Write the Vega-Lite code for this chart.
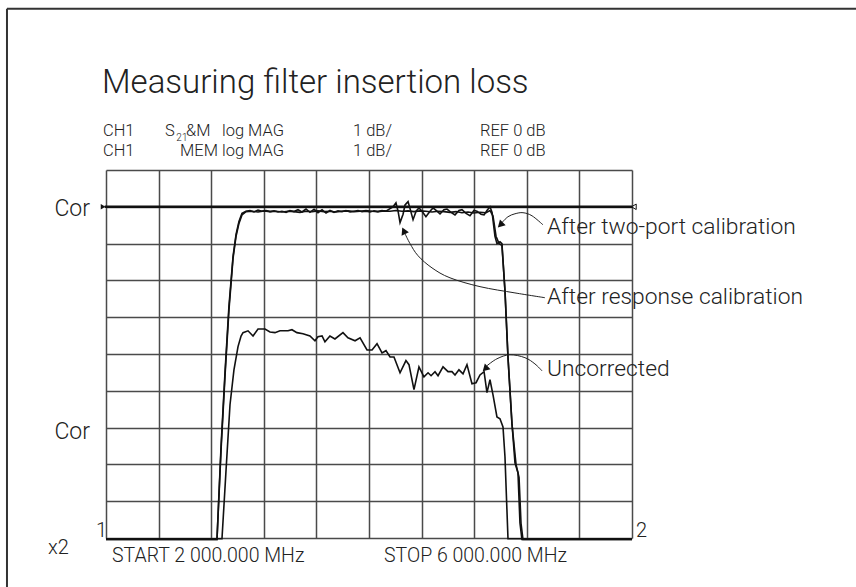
{
  "$schema": "https://vega.github.io/schema/vega-lite/v6.json",
  "autosize": "none",
  "width": 526,
  "height": 368,
  "padding": {"left": 106, "top": 170, "right": 224, "bottom": 49},
  "background": "white",
  "config": {
    "view": {"stroke": null},
    "font": "Roboto",
    "axis": {"grid": true, "gridColor": "#4a4a4a", "gridWidth": 1.5, "gridOpacity": 1, "labels": false, "ticks": false, "domain": false, "title": null}
  },
  "datasets": {
    "traces": [
      {"s": "two-port", "f": 2000, "db": -9.04}, {"s": "two-port", "f": 2844, "db": -9.04}, {"s": "two-port", "f": 2875, "db": -6.6}, {"s": "two-port", "f": 2905, "db": -4.6}, {"s": "two-port", "f": 2935, "db": -2.8}, {"s": "two-port", "f": 2966, "db": -1.4}, {"s": "two-port", "f": 2989, "db": -0.8}, {"s": "two-port", "f": 3011, "db": -0.45}, {"s": "two-port", "f": 3034, "db": -0.22}, {"s": "two-port", "f": 3065, "db": -0.13}, {"s": "two-port", "f": 3110, "db": -0.12}, {"s": "two-port", "f": 3156, "db": -0.14}, {"s": "two-port", "f": 3202, "db": -0.11}, {"s": "two-port", "f": 3247, "db": -0.13}, {"s": "two-port", "f": 3293, "db": -0.12}, {"s": "two-port", "f": 3338, "db": -0.14}, {"s": "two-port", "f": 3384, "db": -0.12}, {"s": "two-port", "f": 3430, "db": -0.13}, {"s": "two-port", "f": 3475, "db": -0.15}, {"s": "two-port", "f": 3521, "db": -0.12}, {"s": "two-port", "f": 3567, "db": -0.13}, {"s": "two-port", "f": 3612, "db": -0.11}, {"s": "two-port", "f": 3658, "db": -0.13}, {"s": "two-port", "f": 3703, "db": -0.12}, {"s": "two-port", "f": 3749, "db": -0.14}, {"s": "two-port", "f": 3795, "db": -0.12}, {"s": "two-port", "f": 3840, "db": -0.11}, {"s": "two-port", "f": 3886, "db": -0.13}, {"s": "two-port", "f": 3932, "db": -0.12}, {"s": "two-port", "f": 3977, "db": -0.1}, {"s": "two-port", "f": 4023, "db": -0.12}, {"s": "two-port", "f": 4068, "db": -0.13}, {"s": "two-port", "f": 4114, "db": -0.11}, {"s": "two-port", "f": 4160, "db": -0.12}, {"s": "two-port", "f": 4205, "db": -0.1}, {"s": "two-port", "f": 4251, "db": -0.12}, {"s": "two-port", "f": 4297, "db": -0.11}, {"s": "two-port", "f": 4342, "db": -0.13}, {"s": "two-port", "f": 4388, "db": -0.11}, {"s": "two-port", "f": 4433, "db": -0.12}, {"s": "two-port", "f": 4479, "db": -0.14}, {"s": "two-port", "f": 4525, "db": -0.12}, {"s": "two-port", "f": 4570, "db": -0.13}, {"s": "two-port", "f": 4616, "db": -0.15}, {"s": "two-port", "f": 4662, "db": -0.13}, {"s": "two-port", "f": 4707, "db": -0.16}, {"s": "two-port", "f": 4753, "db": -0.14}, {"s": "two-port", "f": 4798, "db": -0.17}, {"s": "two-port", "f": 4844, "db": -0.15}, {"s": "two-port", "f": 4890, "db": -0.16}, {"s": "two-port", "f": 4920, "db": -0.1}, {"s": "two-port", "f": 4943, "db": -0.25}, {"s": "two-port", "f": 4966, "db": -0.8}, {"s": "two-port", "f": 4989, "db": -1.0}, {"s": "two-port", "f": 5011, "db": -1.05}, {"s": "two-port", "f": 5034, "db": -2.26}, {"s": "two-port", "f": 5057, "db": -4.08}, {"s": "two-port", "f": 5087, "db": -5.87}, {"s": "two-port", "f": 5110, "db": -6.96}, {"s": "two-port", "f": 5133, "db": -7.23}, {"s": "two-port", "f": 5148, "db": -8.59}, {"s": "two-port", "f": 5163, "db": -9.04}, {"s": "two-port", "f": 6000, "db": -9.04},
      {"s": "response", "f": 2000, "db": -9.04}, {"s": "response", "f": 2844, "db": -9.04}, {"s": "response", "f": 2875, "db": -6.5}, {"s": "response", "f": 2905, "db": -4.5}, {"s": "response", "f": 2935, "db": -2.7}, {"s": "response", "f": 2966, "db": -1.35}, {"s": "response", "f": 2989, "db": -0.75}, {"s": "response", "f": 3011, "db": -0.4}, {"s": "response", "f": 3034, "db": -0.18}, {"s": "response", "f": 3065, "db": -0.12}, {"s": "response", "f": 3095, "db": -0.1}, {"s": "response", "f": 3125, "db": -0.14}, {"s": "response", "f": 3156, "db": -0.09}, {"s": "response", "f": 3186, "db": -0.12}, {"s": "response", "f": 3217, "db": -0.1}, {"s": "response", "f": 3247, "db": -0.13}, {"s": "response", "f": 3278, "db": -0.11}, {"s": "response", "f": 3308, "db": -0.14}, {"s": "response", "f": 3338, "db": -0.12}, {"s": "response", "f": 3369, "db": -0.15}, {"s": "response", "f": 3399, "db": -0.1}, {"s": "response", "f": 3430, "db": -0.13}, {"s": "response", "f": 3460, "db": -0.08}, {"s": "response", "f": 3490, "db": -0.14}, {"s": "response", "f": 3521, "db": -0.06}, {"s": "response", "f": 3551, "db": -0.15}, {"s": "response", "f": 3582, "db": -0.07}, {"s": "response", "f": 3612, "db": -0.16}, {"s": "response", "f": 3643, "db": -0.08}, {"s": "response", "f": 3673, "db": -0.17}, {"s": "response", "f": 3703, "db": -0.1}, {"s": "response", "f": 3734, "db": -0.15}, {"s": "response", "f": 3764, "db": -0.11}, {"s": "response", "f": 3795, "db": -0.13}, {"s": "response", "f": 3825, "db": -0.1}, {"s": "response", "f": 3856, "db": -0.14}, {"s": "response", "f": 3886, "db": -0.12}, {"s": "response", "f": 3916, "db": -0.1}, {"s": "response", "f": 3947, "db": -0.13}, {"s": "response", "f": 3977, "db": -0.12}, {"s": "response", "f": 4008, "db": -0.14}, {"s": "response", "f": 4038, "db": -0.11}, {"s": "response", "f": 4068, "db": -0.13}, {"s": "response", "f": 4099, "db": -0.1}, {"s": "response", "f": 4129, "db": -0.12}, {"s": "response", "f": 4160, "db": -0.05}, {"s": "response", "f": 4183, "db": 0.0}, {"s": "response", "f": 4205, "db": 0.11}, {"s": "response", "f": 4221, "db": -0.12}, {"s": "response", "f": 4236, "db": -0.43}, {"s": "response", "f": 4259, "db": -0.2}, {"s": "response", "f": 4274, "db": 0.05}, {"s": "response", "f": 4297, "db": 0.14}, {"s": "response", "f": 4312, "db": -0.05}, {"s": "response", "f": 4335, "db": -0.35}, {"s": "response", "f": 4358, "db": -0.12}, {"s": "response", "f": 4380, "db": -0.03}, {"s": "response", "f": 4403, "db": -0.12}, {"s": "response", "f": 4433, "db": -0.27}, {"s": "response", "f": 4464, "db": -0.12}, {"s": "response", "f": 4487, "db": -0.03}, {"s": "response", "f": 4517, "db": -0.12}, {"s": "response", "f": 4540, "db": -0.19}, {"s": "response", "f": 4570, "db": -0.08}, {"s": "response", "f": 4593, "db": -0.06}, {"s": "response", "f": 4624, "db": -0.15}, {"s": "response", "f": 4654, "db": -0.22}, {"s": "response", "f": 4684, "db": -0.1}, {"s": "response", "f": 4707, "db": -0.08}, {"s": "response", "f": 4738, "db": -0.18}, {"s": "response", "f": 4768, "db": -0.24}, {"s": "response", "f": 4798, "db": -0.1}, {"s": "response", "f": 4821, "db": -0.12}, {"s": "response", "f": 4852, "db": -0.2}, {"s": "response", "f": 4875, "db": -0.22}, {"s": "response", "f": 4897, "db": -0.1}, {"s": "response", "f": 4920, "db": 0.0}, {"s": "response", "f": 4936, "db": -0.15}, {"s": "response", "f": 4958, "db": -0.8}, {"s": "response", "f": 4973, "db": -1.0}, {"s": "response", "f": 4996, "db": -0.95}, {"s": "response", "f": 5011, "db": -1.0}, {"s": "response", "f": 5034, "db": -2.3}, {"s": "response", "f": 5057, "db": -4.1}, {"s": "response", "f": 5087, "db": -5.9}, {"s": "response", "f": 5118, "db": -7.0}, {"s": "response", "f": 5141, "db": -7.35}, {"s": "response", "f": 5156, "db": -8.6}, {"s": "response", "f": 5171, "db": -9.04}, {"s": "response", "f": 6000, "db": -9.04},
      {"s": "uncorrected", "f": 2000, "db": -9.02}, {"s": "uncorrected", "f": 2882, "db": -9.02}, {"s": "uncorrected", "f": 2913, "db": -7.15}, {"s": "uncorrected", "f": 2943, "db": -5.38}, {"s": "uncorrected", "f": 2973, "db": -4.43}, {"s": "uncorrected", "f": 3004, "db": -3.8}, {"s": "uncorrected", "f": 3027, "db": -3.51}, {"s": "uncorrected", "f": 3042, "db": -3.42}, {"s": "uncorrected", "f": 3080, "db": -3.37}, {"s": "uncorrected", "f": 3118, "db": -3.51}, {"s": "uncorrected", "f": 3156, "db": -3.32}, {"s": "uncorrected", "f": 3209, "db": -3.32}, {"s": "uncorrected", "f": 3247, "db": -3.4}, {"s": "uncorrected", "f": 3285, "db": -3.42}, {"s": "uncorrected", "f": 3323, "db": -3.37}, {"s": "uncorrected", "f": 3384, "db": -3.37}, {"s": "uncorrected", "f": 3414, "db": -3.34}, {"s": "uncorrected", "f": 3452, "db": -3.42}, {"s": "uncorrected", "f": 3498, "db": -3.45}, {"s": "uncorrected", "f": 3551, "db": -3.51}, {"s": "uncorrected", "f": 3589, "db": -3.64}, {"s": "uncorrected", "f": 3612, "db": -3.53}, {"s": "uncorrected", "f": 3643, "db": -3.51}, {"s": "uncorrected", "f": 3665, "db": -3.67}, {"s": "uncorrected", "f": 3703, "db": -3.51}, {"s": "uncorrected", "f": 3741, "db": -3.59}, {"s": "uncorrected", "f": 3802, "db": -3.42}, {"s": "uncorrected", "f": 3840, "db": -3.56}, {"s": "uncorrected", "f": 3894, "db": -3.64}, {"s": "uncorrected", "f": 3932, "db": -3.56}, {"s": "uncorrected", "f": 3985, "db": -3.89}, {"s": "uncorrected", "f": 4023, "db": -3.89}, {"s": "uncorrected", "f": 4061, "db": -3.72}, {"s": "uncorrected", "f": 4099, "db": -3.97}, {"s": "uncorrected", "f": 4129, "db": -3.91}, {"s": "uncorrected", "f": 4160, "db": -4.08}, {"s": "uncorrected", "f": 4190, "db": -4.08}, {"s": "uncorrected", "f": 4236, "db": -4.51}, {"s": "uncorrected", "f": 4281, "db": -4.18}, {"s": "uncorrected", "f": 4304, "db": -4.29}, {"s": "uncorrected", "f": 4342, "db": -4.97}, {"s": "uncorrected", "f": 4380, "db": -4.35}, {"s": "uncorrected", "f": 4418, "db": -4.62}, {"s": "uncorrected", "f": 4449, "db": -4.51}, {"s": "uncorrected", "f": 4472, "db": -4.59}, {"s": "uncorrected", "f": 4502, "db": -4.48}, {"s": "uncorrected", "f": 4525, "db": -4.59}, {"s": "uncorrected", "f": 4563, "db": -4.35}, {"s": "uncorrected", "f": 4601, "db": -4.48}, {"s": "uncorrected", "f": 4631, "db": -4.48}, {"s": "uncorrected", "f": 4654, "db": -4.57}, {"s": "uncorrected", "f": 4684, "db": -4.43}, {"s": "uncorrected", "f": 4715, "db": -4.54}, {"s": "uncorrected", "f": 4745, "db": -4.29}, {"s": "uncorrected", "f": 4783, "db": -4.81}, {"s": "uncorrected", "f": 4814, "db": -4.78}, {"s": "uncorrected", "f": 4844, "db": -4.57}, {"s": "uncorrected", "f": 4875, "db": -4.48}, {"s": "uncorrected", "f": 4897, "db": -5.05}, {"s": "uncorrected", "f": 4920, "db": -4.7}, {"s": "uncorrected", "f": 4943, "db": -5.11}, {"s": "uncorrected", "f": 4973, "db": -5.71}, {"s": "uncorrected", "f": 4996, "db": -5.76}, {"s": "uncorrected", "f": 5019, "db": -5.98}, {"s": "uncorrected", "f": 5034, "db": -6.79}, {"s": "uncorrected", "f": 5057, "db": -9.02}, {"s": "uncorrected", "f": 6000, "db": -9.02}
    ],
    "arrows": [
      {"a": "two-port", "i": 1, "f": 5011, "db": -0.43}, {"a": "two-port", "i": 2, "f": 5057, "db": -0.27}, {"a": "two-port", "i": 3, "f": 5110, "db": -0.19}, {"a": "two-port", "i": 4, "f": 5171, "db": -0.16}, {"a": "two-port", "i": 5, "f": 5240, "db": -0.245}, {"a": "two-port", "i": 6, "f": 5323, "db": -0.49},
      {"a": "response", "i": 1, "f": 4274, "db": -0.73}, {"a": "response", "i": 2, "f": 4312, "db": -1.0}, {"a": "response", "i": 3, "f": 4373, "db": -1.33}, {"a": "response", "i": 4, "f": 4479, "db": -1.66}, {"a": "response", "i": 5, "f": 4616, "db": -1.93}, {"a": "response", "i": 6, "f": 4844, "db": -2.17}, {"a": "response", "i": 7, "f": 5110, "db": -2.34}, {"a": "response", "i": 8, "f": 5338, "db": -2.47},
      {"a": "uncorrected", "i": 1, "f": 4897, "db": -4.32}, {"a": "uncorrected", "i": 2, "f": 4973, "db": -4.13}, {"a": "uncorrected", "i": 3, "f": 5072, "db": -4.02}, {"a": "uncorrected", "i": 4, "f": 5186, "db": -4.1}, {"a": "uncorrected", "i": 5, "f": 5262, "db": -4.27}, {"a": "uncorrected", "i": 6, "f": 5316, "db": -4.46}
    ],
    "tips": [
      {"a": "two-port", "dir": "down-left", "f": 5005, "db": -0.47},
      {"a": "uncorrected", "dir": "down-left", "f": 4890, "db": -4.38},
      {"a": "response", "dir": "up-left", "f": 4268, "db": -0.68}
    ],
    "labels": [
      {"g": "big", "text": "After two-port calibration", "f": 5354, "db": -0.54},
      {"g": "big", "text": "After response calibration", "f": 5354, "db": -2.45},
      {"g": "big", "text": "Uncorrected", "f": 5354, "db": -4.4},
      {"g": "side", "text": "x2", "f": 1559, "db": -9.27},
      {"g": "side", "text": "1", "f": 1924, "db": -8.8},
      {"g": "side", "text": "2", "f": 6030, "db": -8.8},
      {"g": "foot", "text": "START 2 000.000 MHz", "f": 2046, "db": -9.48},
      {"g": "foot", "text": "STOP 6 000.000 MHz", "f": 4114, "db": -9.48},
      {"g": "head", "text": "CH1", "f": 1977, "db": 2.07},
      {"g": "head", "text": "S", "f": 2449, "db": 2.07},
      {"g": "head", "text": "&M", "f": 2609, "db": 2.07},
      {"g": "head", "text": "log MAG", "f": 2882, "db": 2.07},
      {"g": "head", "text": "1 dB/", "f": 3878, "db": 2.07},
      {"g": "head", "text": "REF  0 dB", "f": 4844, "db": 2.07},
      {"g": "head", "text": "CH1", "f": 1977, "db": 1.52},
      {"g": "head", "text": "MEM", "f": 2563, "db": 1.52},
      {"g": "head", "text": "log MAG", "f": 2882, "db": 1.52},
      {"g": "head", "text": "1 dB/", "f": 3878, "db": 1.52},
      {"g": "head", "text": "REF  0 dB", "f": 4844, "db": 1.52},
      {"g": "sub", "text": "21", "f": 2535, "db": 1.88},
      {"g": "title", "text": "Measuring filter insertion loss", "f": 1970, "db": 3.1}
    ],
    "cor": [
      {"text": "Cor", "f": 1878, "db": -0.05},
      {"text": "Cor", "f": 1878, "db": -6.11}
    ],
    "frame": [
      {"f": 1247, "f2": 7800, "db": 5.38, "db2": 5.38},
      {"f": 1247, "f2": 1247, "db": 5.38, "db2": -11}
    ],
    "ref": [
      {"f": 1990, "f2": 6000, "db": 0}
    ],
    "refmarks": [
      {"side": "left", "f": 1978, "db": 0},
      {"side": "right", "f": 6014, "db": 0}
    ]
  },
  "encoding": {
    "x": {"field": "f", "type": "quantitative", "scale": {"domain": [2000, 6000], "nice": false, "zero": false}, "axis": {"values": [2000, 2400, 2800, 3200, 3600, 4000, 4400, 4800, 5200, 5600, 6000]}},
    "y": {"field": "db", "type": "quantitative", "scale": {"domain": [-9, 1], "nice": false, "zero": false}, "axis": {"values": [-9, -8, -7, -6, -5, -4, -3, -2, -1, 0, 1]}}
  },
  "layer": [
    {
      "data": {"name": "frame"},
      "mark": {"type": "rule", "color": "#333333", "strokeWidth": 2},
      "encoding": {"x2": {"field": "f2"}, "y2": {"field": "db2"}}
    },
    {
      "data": {"name": "ref"},
      "mark": {"type": "rule", "color": "#111111", "strokeWidth": 2.6},
      "encoding": {"x2": {"field": "f2"}}
    },
    {
      "data": {"name": "refmarks"},
      "transform": [{"filter": "datum.side === 'left'"}],
      "mark": {"type": "point", "shape": "triangle-right", "filled": true, "color": "#111111", "size": 30, "opacity": 1}
    },
    {
      "data": {"name": "refmarks"},
      "transform": [{"filter": "datum.side === 'right'"}],
      "mark": {"type": "point", "shape": "triangle-left", "filled": false, "color": "#111111", "size": 30, "strokeWidth": 1, "opacity": 1}
    },
    {
      "data": {"name": "traces"},
      "mark": {"type": "line", "color": "#111111", "strokeWidth": 1.6, "clip": false},
      "encoding": {"detail": {"field": "s"}}
    },
    {
      "data": {"name": "arrows"},
      "mark": {"type": "line", "color": "#222222", "strokeWidth": 1, "interpolate": "cardinal"},
      "encoding": {"detail": {"field": "a"}, "order": {"field": "i"}}
    },
    {
      "data": {"name": "tips"},
      "transform": [{"filter": "datum.dir === 'down-left'"}],
      "mark": {"type": "point", "shape": "triangle", "filled": true, "color": "#111111", "size": 65, "angle": 225, "opacity": 1}
    },
    {
      "data": {"name": "tips"},
      "transform": [{"filter": "datum.dir === 'up-left'"}],
      "mark": {"type": "point", "shape": "triangle", "filled": true, "color": "#111111", "size": 65, "angle": 335, "opacity": 1}
    },
    {
      "data": {"name": "cor"},
      "mark": {"type": "text", "align": "right", "baseline": "middle", "fontSize": 23, "fontWeight": 300, "color": "#222222"},
      "encoding": {"text": {"field": "text"}}
    },
    {
      "data": {"name": "labels"},
      "transform": [{"filter": "datum.g === 'big'"}],
      "mark": {"type": "text", "align": "left", "baseline": "middle", "fontSize": 22.8, "fontWeight": 300, "color": "#222222"},
      "encoding": {"text": {"field": "text"}}
    },
    {
      "data": {"name": "labels"},
      "transform": [{"filter": "datum.g === 'side'"}],
      "mark": {"type": "text", "align": "left", "baseline": "middle", "fontSize": 20, "fontWeight": 300, "color": "#222222"},
      "encoding": {"text": {"field": "text"}}
    },
    {
      "data": {"name": "labels"},
      "transform": [{"filter": "datum.g === 'foot'"}],
      "mark": {"type": "text", "align": "left", "baseline": "middle", "fontSize": 19.5, "fontWeight": 300, "color": "#222222"},
      "encoding": {"text": {"field": "text"}}
    },
    {
      "data": {"name": "labels"},
      "transform": [{"filter": "datum.g === 'head'"}],
      "mark": {"type": "text", "align": "left", "baseline": "middle", "fontSize": 16.5, "fontWeight": 300, "color": "#222222"},
      "encoding": {"text": {"field": "text"}}
    },
    {
      "data": {"name": "labels"},
      "transform": [{"filter": "datum.g === 'sub'"}],
      "mark": {"type": "text", "align": "left", "baseline": "middle", "fontSize": 10, "fontWeight": 300, "color": "#222222"},
      "encoding": {"text": {"field": "text"}}
    },
    {
      "data": {"name": "labels"},
      "transform": [{"filter": "datum.g === 'title'"}],
      "mark": {"type": "text", "align": "left", "baseline": "alphabetic", "fontSize": 33, "fontWeight": 300, "color": "#222222"},
      "encoding": {"text": {"field": "text"}}
    }
  ]
}
